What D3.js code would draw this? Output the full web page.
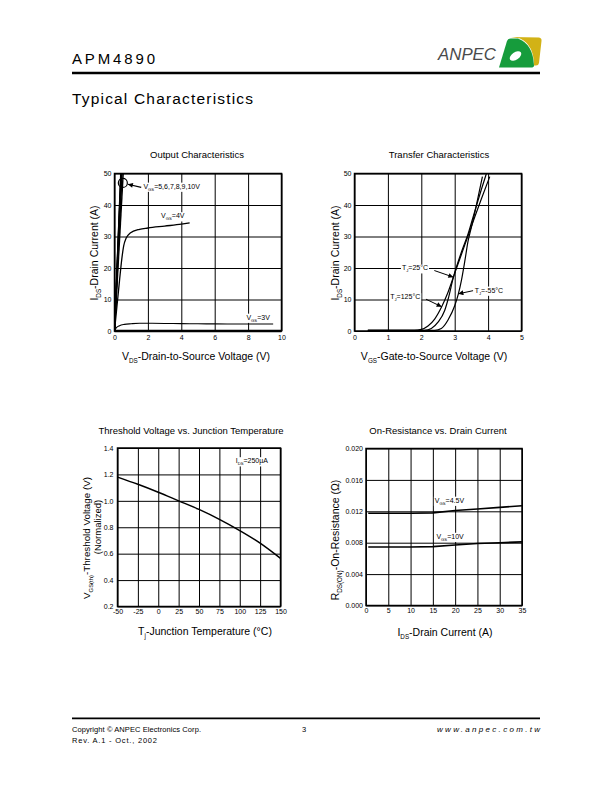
<!DOCTYPE html>
<html>
<head>
<meta charset="utf-8">
<script src="https://cdn.jsdelivr.net/npm/d3@7"></script>
<style>
  body { margin: 0; background: #fff; }
  svg { display: block; font-family: "Liberation Sans", Arial, sans-serif; }
</style>
</head>
<body>
<svg id="page" width="612" height="792"></svg>
<script>
// ---- data ----

// Output characteristics: [V_DS, I_DS] per V_GS
const vgsHighNames = ["5", "6", "7", "8", "9", "10"];
const outHigh = [
  [[0, 0], [0.52, 50]],
  [[0, 0], [0.45, 50]],
  [[0, 0], [0.42, 50]],
  [[0, 0], [0.40, 50]],
  [[0, 0], [0.385, 50]],
  [[0, 0], [0.375, 50]],
];
const out4V = [[0, 0], [0.15, 8], [0.3, 16], [0.44, 23], [0.55, 27], [0.7, 29.5], [0.94, 31.1],
  [1.5, 32.3], [2, 32.7], [3, 33.3], [4, 33.9], [4.5, 34.3]];
const out3V = [[0, 0], [0.1, 1.0], [0.3, 1.7], [0.6, 2.1], [1, 2.3], [1.5, 2.45], [2, 2.45],
  [3, 2.4], [4, 2.35], [5, 2.3], [6, 2.25], [7, 2.2], [8, 2.2], [9.5, 2.2]];
const outXTicks = [0, 2, 4, 6, 8, 10];
const outYTicks = [0, 10, 20, 30, 40, 50];

// Transfer characteristics: [V_GS, I_DS] per T_J
const tr125 = [[0.4, 0.2], [1.8, 0.2], [2.0, 0.5], [2.2, 1.6], [2.4, 3.8], [2.61, 7.7], [2.8, 12.3],
  [3.0, 18.3], [3.2, 24.3], [3.4, 30.2], [3.6, 36.2], [3.8, 42], [4.05, 49]];
const tr25 = [[0.4, 0.2], [2.1, 0.2], [2.3, 0.8], [2.5, 2.8], [2.7, 6.5], [2.8, 10], [2.96, 17],
  [3.2, 25], [3.4, 30.8], [3.6, 38], [3.8, 45], [3.95, 50]];
const trM55 = [[0.4, 0.2], [2.4, 0.2], [2.6, 0.8], [2.8, 3.5], [3.0, 8], [3.11, 11.8], [3.2, 16],
  [3.3, 22], [3.4, 28.5], [3.5, 33], [3.6, 37.5], [3.7, 42.5], [3.83, 49]];
const trXTicks = [0, 1, 2, 3, 4, 5];
const trYTicks = [0, 10, 20, 30, 40, 50];

// Threshold voltage vs junction temperature
const tjTemps = [-50, -25, 0, 25, 50, 75, 100, 125, 150];
const vthNorm = [1.18, 1.125, 1.065, 1.0, 0.935, 0.86, 0.775, 0.68, 0.565];
const thXTicks = [-50, -25, 0, 25, 50, 75, 100, 125, 150];
const thYTicks = [0.2, 0.4, 0.6, 0.8, 1.0, 1.2, 1.4];

// On-resistance vs drain current
const ronIds = [0.5, 5, 10, 15, 20, 25, 30, 35];
const ron45 = [0.01175, 0.01175, 0.01175, 0.0118, 0.0121, 0.0123, 0.0125, 0.0127];
const ron10 = [0.00745, 0.00745, 0.00745, 0.0075, 0.0077, 0.0079, 0.0080, 0.0081];
const ronXTicks = [0, 5, 10, 15, 20, 25, 30, 35];
const ronYTicks = [0, 0.004, 0.008, 0.012, 0.016, 0.020];

// ---- drawing ----
const svg = d3.select("#page");
svg.append("rect").attr("width", 612).attr("height", 792).attr("fill", "#fff");

const defs = svg.append("defs");
defs.append("marker").attr("id", "arr")
  .attr("viewBox", "0 0 10 10").attr("refX", 10).attr("refY", 5)
  .attr("markerUnits", "userSpaceOnUse").attr("markerWidth", 6).attr("markerHeight", 5)
  .attr("orient", "auto")
  .append("path").attr("d", "M0,0 L10,5 L0,10 Z").attr("fill", "#000");

const plain = d => String(d); // hyphen minus, like the datasheet

// text with subscript parts: plain strings, or [string] for subscript
function rich(t, parts, fs) {
  let shift = 0;
  parts.forEach(p => {
    const sub = Array.isArray(p);
    const s = sub ? fs * 0.32 : 0;
    t.append("tspan")
      .attr("font-size", sub ? fs * 0.6 : fs)
      .attr("dy", s - shift)
      .text(sub ? p[0] : p);
    shift = s;
  });
  return t;
}

function panel(o) {
  const x = d3.scaleLinear().domain(o.xd).range([o.left, o.right]);
  const y = d3.scaleLinear().domain(o.yd).range([o.bottom, o.top]);
  const g = svg.append("g");
  const h = o.bottom - o.top, w = o.right - o.left;

  // grid
  g.append("g").attr("transform", `translate(0,${o.bottom})`)
    .call(d3.axisBottom(x).tickValues(o.xt).tickSize(-h).tickFormat(""))
    .call(a => a.select(".domain").remove())
    .selectAll("line").attr("stroke", "#000").attr("stroke-width", 1);
  g.append("g").attr("transform", `translate(${o.left},0)`)
    .call(d3.axisLeft(y).tickValues(o.yt).tickSize(-w).tickFormat(""))
    .call(a => a.select(".domain").remove())
    .selectAll("line").attr("stroke", "#000").attr("stroke-width", 1);

  // tick labels
  g.append("g").attr("transform", `translate(0,${o.bottom})`)
    .call(d3.axisBottom(x).tickValues(o.xt).tickSize(0).tickPadding(o.xpad).tickFormat(o.xf))
    .call(a => a.select(".domain").remove())
    .attr("font-family", null).attr("font-size", 7);
  g.append("g").attr("transform", `translate(${o.left},0)`)
    .call(d3.axisLeft(y).tickValues(o.yt).tickSize(0).tickPadding(o.ypad).tickFormat(o.yf))
    .call(a => a.select(".domain").remove())
    .attr("font-family", null).attr("font-size", 7);

  // frame
  g.append("rect").attr("x", o.left).attr("y", o.top).attr("width", w).attr("height", h)
    .attr("fill", "none").attr("stroke", "#000").attr("stroke-width", 1.5);

  // title
  g.append("text").attr("x", o.titleX).attr("y", o.titleY).attr("text-anchor", "middle")
    .attr("font-size", 9.5).text(o.title);
  // x label
  rich(g.append("text").attr("x", o.xlX).attr("y", o.xlY).attr("text-anchor", "middle"), o.xl, 10.5);
  // y label(s)
  o.yl.forEach(l => {
    rich(g.append("text").attr("text-anchor", "middle")
      .attr("transform", `translate(${l.x},${l.y}) rotate(-90)`), l.parts, l.fs || 10.5);
  });

  const clipId = "clip" + Math.round(o.left) + Math.round(o.top);
  defs.append("clipPath").attr("id", clipId).append("rect")
    .attr("x", o.left).attr("y", o.top - 1).attr("width", w).attr("height", h + 1);
  const plot = g.append("g").attr("clip-path", `url(#${clipId})`);
  const notes = g.append("g");
  return { x, y, g, plot, notes };
}

function curve(p, pts, sw, smooth) {
  const line = d3.line().x(d => p.x(d[0])).y(d => p.y(d[1]));
  if (smooth) line.curve(d3.curveMonotoneX);
  p.plot.append("path").attr("d", line(pts)).attr("fill", "none")
    .attr("stroke", "#000").attr("stroke-width", sw).attr("stroke-linejoin", "round");
}

// label on a white patch, so the grid breaks behind it
function note(p, xv, yv, parts) {
  const grp = p.notes.append("g");
  const bg = grp.append("rect").attr("fill", "#fff");
  const t = rich(grp.append("text").attr("x", p.x(xv)).attr("y", p.y(yv)), parts, 7);
  const b = t.node().getBBox();
  bg.attr("x", b.x - 1).attr("y", b.y).attr("width", b.width + 2).attr("height", b.height);
  return t;
}

function arrow(p, x1, y1, x2, y2, sw) {
  p.notes.append("line")
    .attr("x1", p.x(x1)).attr("y1", p.y(y1)).attr("x2", p.x(x2)).attr("y2", p.y(y2))
    .attr("stroke", "#000").attr("stroke-width", sw || 1).attr("marker-end", "url(#arr)");
}

// --- Output Characteristics ---
const p1 = panel({
  left: 114.5, right: 281.5, top: 173.5, bottom: 331,
  xd: [0, 10], yd: [0, 50], xt: outXTicks, yt: outYTicks,
  xf: plain, yf: plain, xpad: 4, ypad: 3,
  title: "Output Characteristics", titleX: 197, titleY: 158,
  xl: ["V", ["DS"], "-Drain-to-Source Voltage (V)"], xlX: 196, xlY: 360,
  yl: [{ x: 98, y: 253, parts: ["I", ["DS"], "-Drain Current (A)"] }],
});
outHigh.forEach(c => curve(p1, c, 1.4));
curve(p1, out4V, 1.3, true);
curve(p1, out3V, 1.1, true);
p1.g.append("line").attr("x1", p1.x(0)).attr("x2", p1.x(10)).attr("y1", p1.y(0)).attr("y2", p1.y(0))
  .attr("stroke", "#000").attr("stroke-width", 2.5);
p1.g.append("circle").attr("cx", p1.x(0.5)).attr("cy", p1.y(47)).attr("r", 4.5)
  .attr("fill", "none").attr("stroke", "#000").attr("stroke-width", 1.2);
note(p1, 1.73, 45.2, ["V", ["GS"], "=" + vgsHighNames.join(",") + "V"]);
arrow(p1, 1.6, 45.6, 0.8, 46.6, 1.2);
note(p1, 2.79, 35.8, ["V", ["GS"], "=4V"]);
note(p1, 7.9, 3.6, ["V", ["GS"], "=3V"]);

// --- Transfer Characteristics ---
const p2 = panel({
  left: 354.5, right: 521.5, top: 173.5, bottom: 331,
  xd: [0, 5], yd: [0, 50], xt: trXTicks, yt: trYTicks,
  xf: plain, yf: plain, xpad: 4, ypad: 3,
  title: "Transfer Characteristics", titleX: 439, titleY: 158,
  xl: ["V", ["GS"], "-Gate-to-Source Voltage (V)"], xlX: 434, xlY: 360,
  yl: [{ x: 339, y: 253, parts: ["I", ["DS"], "-Drain Current (A)"] }],
});
curve(p2, tr125, 1.2, true);
curve(p2, tr25, 1.2, true);
curve(p2, trM55, 1.2, true);
note(p2, 1.42, 19.3, ["T", ["J"], "=25°C"]);
arrow(p2, 2.39, 19.2, 2.96, 17.1);
note(p2, 1.07, 10.1, ["T", ["J"], "=125°C"]);
arrow(p2, 2.14, 10.1, 2.61, 7.7);
note(p2, 3.6, 12.2, ["T", ["J"], "=-55°C"]);
arrow(p2, 3.55, 12.8, 3.11, 11.8);

// --- Threshold Voltage vs. Junction Temperature ---
const p3 = panel({
  left: 117.5, right: 280.5, top: 448, bottom: 606.5,
  xd: [-50, 150], yd: [0.2, 1.4], xt: thXTicks, yt: thYTicks,
  xf: plain, yf: d3.format(".1f"), xpad: 2.5, ypad: 4,
  title: "Threshold Voltage vs. Junction Temperature", titleX: 191, titleY: 434,
  xl: ["T", ["j"], "-Junction Temperature (°C)"], xlX: 205, xlY: 635,
  yl: [
    { x: 90, y: 538, fs: 9.8, parts: ["V", ["GS(th)"], "-Threshold Voltage (V)"] },
    { x: 100.5, y: 527, fs: 9.5, parts: ["(Normalized)"] },
  ],
});
curve(p3, tjTemps.map((t, i) => [t, vthNorm[i]]), 1.5, true);
note(p3, 95, 1.285, ["I", ["DS"], "=250µA"]);

// --- On-Resistance vs. Drain Current ---
const p4 = panel({
  left: 366, right: 522, top: 448.5, bottom: 605.5,
  xd: [0, 35], yd: [0, 0.020], xt: ronXTicks, yt: ronYTicks,
  xf: plain, yf: d3.format(".3f"), xpad: 2.5, ypad: 3,
  title: "On-Resistance vs. Drain Current", titleX: 438, titleY: 434,
  xl: ["I", ["DS"], "-Drain Current (A)"], xlX: 445, xlY: 636,
  yl: [{ x: 339, y: 540, parts: ["R", ["DS(ON)"], "-On-Resistance (Ω)"] }],
});
curve(p4, ronIds.map((v, i) => [v, ron45[i]]), 1.6);
curve(p4, ronIds.map((v, i) => [v, ron10[i]]), 1.6);
note(p4, 15.45, 0.0131, ["V", ["GS"], "=4.5V"]);
note(p4, 15.8, 0.0085, ["V", ["GS"], "=10V"]);

// ---- page header ----
svg.append("text").attr("x", 72).attr("y", 64).attr("font-size", 15)
  .attr("textLength", 83).attr("lengthAdjust", "spacing").text("APM4890");
svg.append("line").attr("x1", 72).attr("x2", 540).attr("y1", 73).attr("y2", 73)
  .attr("stroke", "#000").attr("stroke-width", 2.7);
svg.append("text").attr("x", 72).attr("y", 104).attr("font-size", 15.5)
  .attr("textLength", 181).attr("lengthAdjust", "spacing").text("Typical Characteristics");

// logo
svg.append("text").attr("x", 438).attr("y", 60).attr("font-size", 16).attr("font-style", "italic")
  .attr("fill", "#4a4a4a").attr("textLength", 58).attr("lengthAdjust", "spacingAndGlyphs").text("ANPEC");
svg.append("path")
  .attr("d", "M511,37 L539,37.5 Q542,38 541.5,41 L539,63 Q538.5,65.5 536,65.5 L534,65.5 Q534,45 520,38.5 Z")
  .attr("fill", "#d2b216");
svg.append("path")
  .attr("d", "M499,67.5 L507,41 Q508,38.5 511,38.5 L518,38.5 Q533,44 534,65.5 Q534,67.5 531,67.5 Z")
  .attr("fill", "#169c3c");
svg.append("ellipse").attr("cx", 515.5).attr("cy", 56).attr("rx", 6.5).attr("ry", 3.8)
  .attr("transform", "rotate(-35 515.5 56)").attr("fill", "#fff");

// ---- page footer ----
svg.append("line").attr("x1", 72).attr("x2", 540).attr("y1", 718.3).attr("y2", 718.3)
  .attr("stroke", "#000").attr("stroke-width", 1.8);
svg.append("text").attr("x", 72).attr("y", 731.7).attr("font-size", 7.5)
  .attr("textLength", 129).attr("lengthAdjust", "spacing").text("Copyright © ANPEC Electronics Corp.");
svg.append("text").attr("x", 302).attr("y", 731.7).attr("font-size", 7.5).text("3");
svg.append("text").attr("x", 437).attr("y", 731.7).attr("font-size", 8).attr("font-style", "italic")
  .attr("textLength", 103).attr("lengthAdjust", "spacing").text("www.anpec.com.tw");
svg.append("text").attr("x", 72).attr("y", 742.7).attr("font-size", 7.5)
  .attr("textLength", 85).attr("lengthAdjust", "spacing").text("Rev. A.1 - Oct., 2002");
</script>
</body>
</html>
